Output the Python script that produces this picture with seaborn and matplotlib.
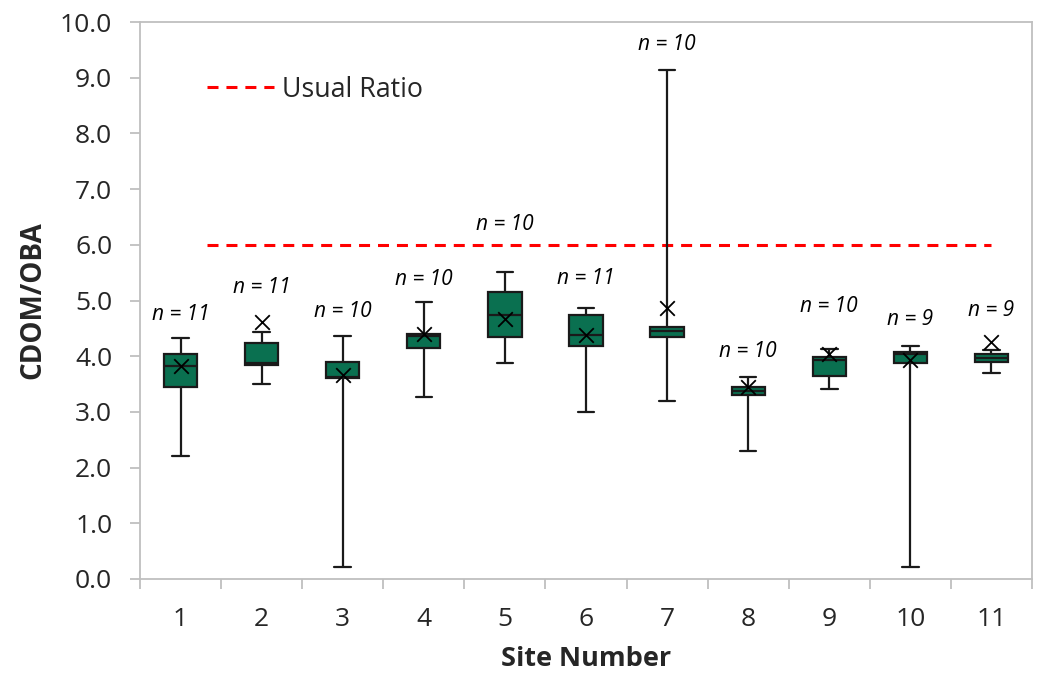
import numpy as np
import pandas as pd
import matplotlib
matplotlib.use("Agg")
import matplotlib.pyplot as plt
import seaborn as sns

sites = ['1', '2', '3', '4', '5', '6', '7', '8', '9', '10', '11']
whisker_low = [2.20, 3.50, 0.22, 3.26, 3.87, 3.00, 3.20, 2.30, 3.42, 0.22, 3.70]
q1 = [3.44, 3.84, 3.60, 4.15, 4.34, 4.18, 4.35, 3.31, 3.65, 3.87, 3.90]
median = [3.82, 3.87, 3.62, 4.36, 4.74, 4.38, 4.45, 3.38, 3.93, 4.04, 3.97]
q3 = [4.04, 4.23, 3.89, 4.39, 5.15, 4.74, 4.53, 3.44, 3.98, 4.08, 4.04]
whisker_high = [4.32, 4.44, 4.36, 4.98, 5.51, 4.87, 9.14, 3.63, 4.13, 4.19, 4.12]
means = [3.82, 4.61, 3.66, 4.40, 4.67, 4.38, 4.87, 3.45, 4.04, 3.93, 4.25]
n_counts = [11, 11, 10, 10, 10, 11, 10, 10, 10, 9, 9]
n_label_y = [4.74, 5.23, 4.81, 5.37, 6.37, 5.39, 9.59, 4.08, 4.89, 4.65, 4.82]
usual_ratio = 6.0
ratio_line_x = [0.33, 10.0]

sns.set_theme(style="white")
plt.rcParams['font.family'] = ['Open Sans', 'DejaVu Sans']

rows = []
for s, a, b, c, d, e in zip(sites, whisker_low, q1, median, q3, whisker_high):
    for v in (a, b, c, d, e):
        rows.append({'site': s, 'value': v})
df = pd.DataFrame(rows)

fig = plt.figure(figsize=(10.43, 6.74), dpi=100)
ax = fig.add_axes([140/1043, 1-579/674, (1032-140)/1043, (579-22)/674])

green = '#0A7050'
edge = '#1a1a1a'
sns.boxplot(data=df, x='site', y='value', order=sites, whis=(0, 100), width=0.41,
            color=green, saturation=1, linecolor=edge, linewidth=1.6,
            fliersize=0, ax=ax, zorder=3)

pos = np.arange(len(sites))
sns.scatterplot(x=pos, y=means, marker='x', s=110, color='black', linewidth=1.3,
                ax=ax, zorder=5, legend=False)

ax.plot(ratio_line_x, [usual_ratio, usual_ratio], color='#FF0000', lw=2.2,
        dashes=(3.6, 2.6), label='Usual Ratio', zorder=2)

for i, (n, yv) in enumerate(zip(n_counts, n_label_y)):
    ax.text(pos[i], yv, f"n = {n}", ha='center', va='center', style='italic',
            fontsize=15, color='black')

ax.set_xlim(-0.5, len(sites) - 0.5)
ax.set_ylim(0, 10)
ax.set_yticks(np.arange(0, 10.01, 1.0))
ax.set_yticklabels([f"{v:.1f}" for v in np.arange(0, 10.01, 1.0)])
ax.set_xticks(pos)
ax.set_xticklabels(sites)
ax.set_xticks(np.arange(-0.5, len(sites), 1.0), minor=True)

ax.tick_params(axis='y', which='major', length=7, width=1.3, color='#BFBFBF',
               labelsize=19, pad=13, left=True, direction='out')
ax.tick_params(axis='x', which='major', length=0, labelsize=19, pad=20, bottom=True)
ax.tick_params(axis='x', which='minor', length=7, width=1.3, color='#BFBFBF',
               bottom=True, direction='out')

for sp in ax.spines.values():
    sp.set_visible(True)
    sp.set_color('#BFBFBF')
    sp.set_linewidth(1.3)

ax.set_xlabel('Site Number', fontsize=19.5, fontweight='bold', labelpad=10)
ax.set_ylabel('CDOM/OBA', fontsize=20, fontweight='bold', labelpad=9)

ax.legend(loc='upper left', bbox_to_anchor=(0.063, 0.923), frameon=False,
          fontsize=19.3, handlelength=2.5, handletextpad=0.3, borderaxespad=0)

fig.savefig('out.png', dpi=100)
